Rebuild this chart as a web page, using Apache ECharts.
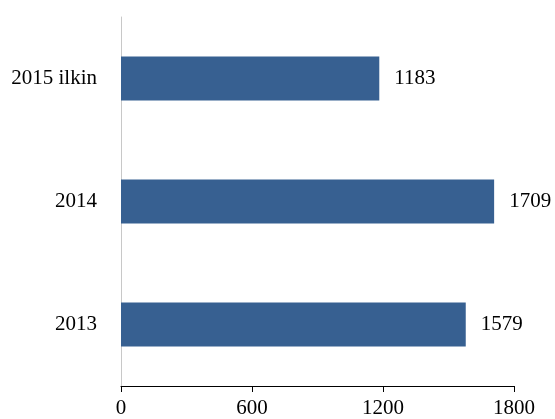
<!DOCTYPE html>
<html>
<head>
<meta charset="utf-8">
<script src="https://cdn.jsdelivr.net/npm/echarts@6/dist/echarts.min.js"></script>
<style>
  html, body { margin: 0; padding: 0; background: #fff; }
  #chart { width: 555px; height: 419px; }
</style>
</head>
<body>
<div id="chart"></div>
<script>
// Categories listed bottom to top
const categories = ['2013', '2014', '2015 ilkin'];
const values = [1579, 1709, 1183];
const xTicks = [0, 600, 1200, 1800];

const font = '"Liberation Serif", "Times New Roman", serif';
const chart = echarts.init(document.getElementById('chart'));
chart.setOption({
  animation: false,
  grid: { left: 121, right: 41, top: 17, bottom: 33, containLabel: false },
  xAxis: {
    type: 'value',
    min: xTicks[0],
    max: xTicks[xTicks.length - 1],
    interval: xTicks[1] - xTicks[0],
    axisLine: { show: true, lineStyle: { color: '#000', width: 1 } },
    axisTick: { show: true, length: 6, lineStyle: { color: '#000' } },
    axisLabel: {
      color: '#000', fontFamily: font, fontSize: 21, margin: 12,
      formatter: v => String(v)
    },
    splitLine: { show: false }
  },
  yAxis: {
    type: 'category',
    data: categories,
    axisLine: { show: true, lineStyle: { color: '#c8c8c8', width: 1 } },
    axisTick: { show: false },
    axisLabel: { color: '#000', fontFamily: font, fontSize: 21, margin: 24 }
  },
  series: [{
    type: 'bar',
    data: values,
    barWidth: 44,
    itemStyle: { color: '#376091' },
    label: {
      show: true,
      position: 'right',
      distance: 15,
      color: '#000',
      fontFamily: font,
      fontSize: 21
    }
  }]
});
</script>
</body>
</html>
